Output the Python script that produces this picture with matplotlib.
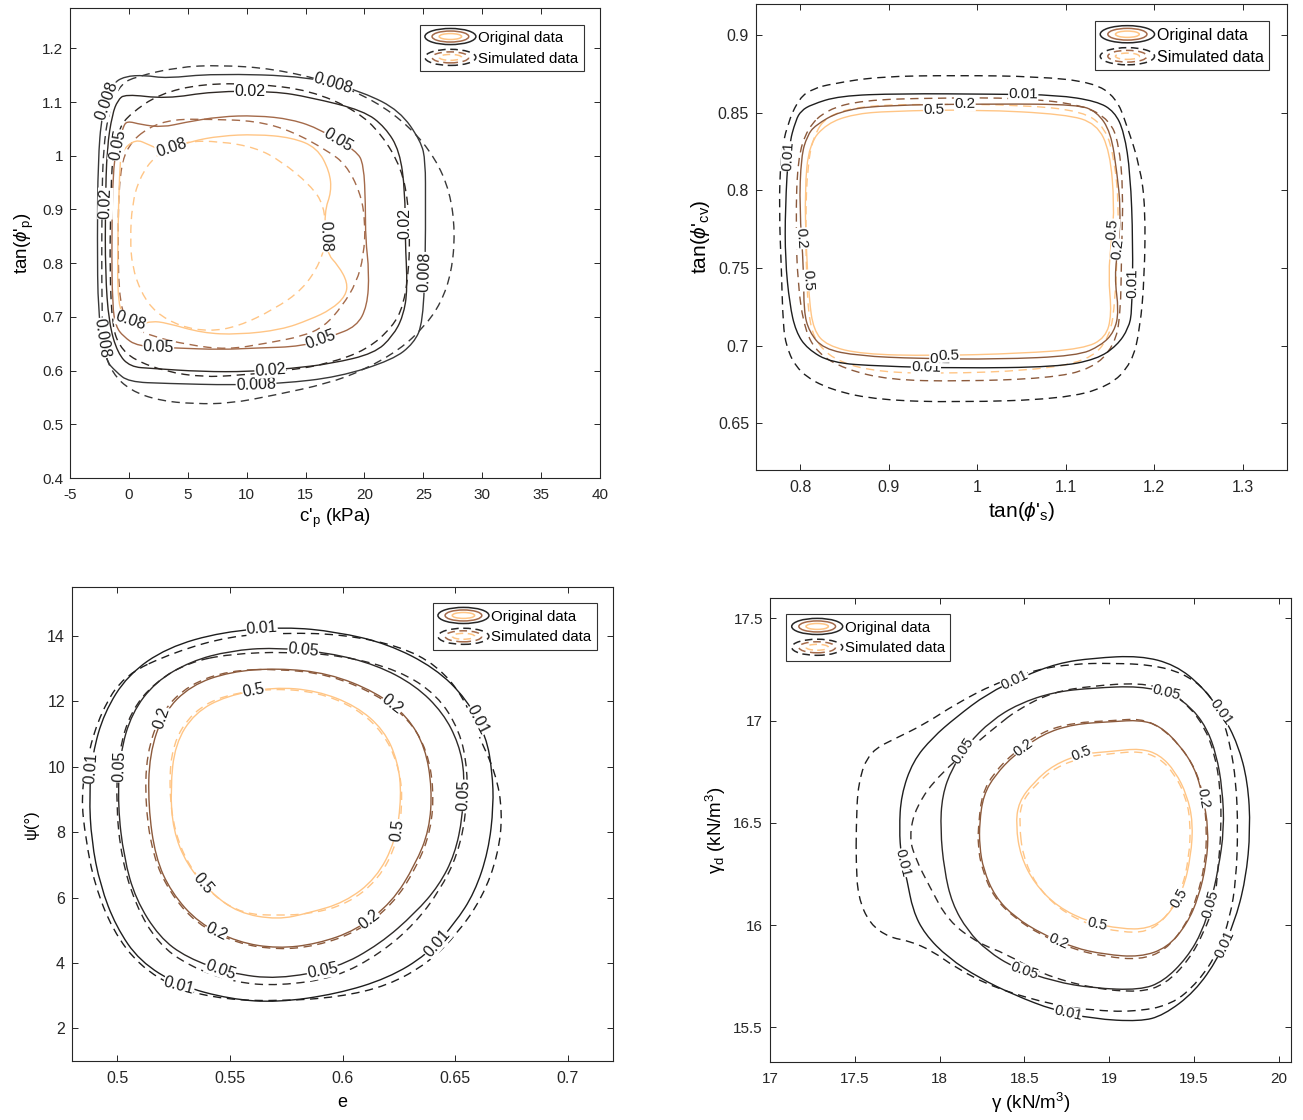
import numpy as np
import matplotlib
matplotlib.use("Agg")
import matplotlib.pyplot as plt
from matplotlib.patches import Ellipse, PathPatch
from matplotlib.path import Path
from matplotlib.lines import Line2D
from matplotlib.legend_handler import HandlerBase
from matplotlib.ticker import FuncFormatter

plt.rcParams['font.family'] = ['Liberation Sans', 'DejaVu Sans']
plt.rcParams['mathtext.fontset'] = 'custom'
plt.rcParams['mathtext.rm'] = 'Liberation Sans'
plt.rcParams['mathtext.it'] = 'Liberation Sans:italic'
plt.rcParams['mathtext.default'] = 'regular'

# ----------------------------------------------------------
# panel 1 : c'p vs tan(phi'p)   contour vertices
# ----------------------------------------------------------
P1_LEVELS = ['0.008', '0.02', '0.05', '0.08']

P1_ORIG_0008 = [(-0.03, 0.579), (3.17, 0.576), (8.96, 0.573), (12.93, 0.576), (17.8, 0.588),
                (22.4, 0.620), (24.2, 0.651), (24.97, 0.689), (25.18, 0.820), (25.18, 0.908),
                (25.18, 0.990), (24.8, 1.027), (22.99, 1.084), (19.94, 1.118), (15.37, 1.148),
                (7.13, 1.153), (3.17, 1.144), (1.34, 1.150), (-0.34, 1.148), (-1.4, 1.134),
                (-2.3, 1.078), (-2.62, 0.99), (-2.68, 0.846), (-2.62, 0.708), (-2.0, 0.620),
                (-1.1, 0.598)]
P1_SIM_0008 = [(0.58, 1.147), (4.09, 1.165), (7.74, 1.169), (12.3, 1.162), (17.2, 1.137),
               (20.85, 1.103), (23.9, 1.053), (26.0, 0.996), (27.26, 0.933), (27.7, 0.858),
               (27.4, 0.783), (26.5, 0.726), (25.1, 0.682), (22.99, 0.639), (19.94, 0.601),
               (16.9, 0.576), (12.3, 0.554), (8.66, 0.539), (5.6, 0.538), (2.56, 0.544),
               (0.12, 0.563), (-1.4, 0.595), (-2.16, 0.639), (-2.3, 0.72), (-2.3, 0.908),
               (-2.16, 1.021), (-1.55, 1.096), (-0.64, 1.134)]
P1_ORIG_002 = [(-0.34, 1.115), (3.17, 1.106), (7.13, 1.120), (12.3, 1.120), (15.37, 1.109),
               (19.94, 1.084), (21.77, 1.053), (22.99, 1.009), (23.45, 0.933), (23.45, 0.846),
               (23.66, 0.751), (23.29, 0.701), (22.4, 0.664), (20.85, 0.632), (17.2, 0.613),
               (13.84, 0.604), (10.18, 0.598), (6.22, 0.598), (1.95, 0.604), (0.12, 0.607),
               (-0.95, 0.632), (-1.7, 0.689), (-2.0, 0.783), (-2.0, 0.908), (-1.86, 1.015),
               (-1.4, 1.078), (-0.95, 1.103)]
P1_SIM_002 = [(0.12, 1.078), (2.56, 1.115), (6.22, 1.134), (10.79, 1.134), (15.37, 1.122),
              (19.33, 1.084), (21.46, 1.04), (23.14, 0.977), (23.75, 0.908), (23.84, 0.846),
              (23.75, 0.783), (23.29, 0.72), (22.4, 0.682), (20.24, 0.639), (16.9, 0.613),
              (13.84, 0.601), (9.27, 0.591), (6.22, 0.588), (3.17, 0.598), (0.43, 0.62),
              (-0.79, 0.645), (-1.4, 0.682), (-1.62, 0.783), (-1.55, 0.908), (-1.4, 1.002),
              (-0.79, 1.053)]
P1_ORIG_005 = [(-0.18, 1.065), (1.04, 1.058), (2.87, 1.053), (4.7, 1.062), (7.74, 1.073),
               (10.79, 1.075), (13.84, 1.068), (16.28, 1.049), (19.33, 1.009), (19.94, 0.984),
               (20.09, 0.908), (20.09, 0.846), (20.4, 0.783), (20.24, 0.72), (19.33, 0.682),
               (17.2, 0.664), (14.76, 0.645), (10.79, 0.642), (7.74, 0.639), (4.09, 0.642),
               (0.73, 0.645), (-0.49, 0.664), (-1.1, 0.682), (-1.4, 0.72), (-1.46, 0.846),
               (-1.34, 0.977), (-0.95, 1.021), (-0.49, 1.053)]
P1_SIM_005 = [(1.65, 1.053), (3.78, 1.068), (6.83, 1.068), (10.79, 1.065), (13.84, 1.046),
              (16.89, 1.009), (18.41, 0.984), (19.63, 0.933), (20.09, 0.877), (19.94, 0.814),
              (19.33, 0.764), (18.11, 0.72), (16.59, 0.682), (14.76, 0.664), (11.71, 0.651),
              (8.35, 0.639), (5.0, 0.648), (1.95, 0.664), (0.12, 0.682), (-0.79, 0.72),
              (-0.95, 0.846), (-0.79, 0.971), (-0.03, 1.021)]
P1_ORIG_008 = [(-0.64, 1.009), (0.58, 1.031), (1.65, 1.021), (2.87, 1.009), (5.3, 1.027),
               (7.74, 1.037), (10.79, 1.04), (13.84, 1.034), (15.98, 1.015), (17.04, 0.971),
               (17.2, 0.933), (16.59, 0.896), (16.74, 0.820), (17.8, 0.795), (18.57, 0.764),
               (18.41, 0.739), (17.2, 0.714), (15.37, 0.695), (12.93, 0.676), (9.27, 0.667),
               (6.22, 0.67), (3.17, 0.689), (1.95, 0.692), (1.04, 0.686), (-0.18, 0.695),
               (-0.95, 0.72), (-0.95, 0.846), (-0.79, 0.971)]
P1_SIM_008 = [(2.26, 1.002), (4.7, 1.027), (7.74, 1.027), (10.79, 1.015), (12.93, 0.99),
              (15.37, 0.946), (16.59, 0.908), (16.74, 0.846), (16.28, 0.802), (14.76, 0.751),
              (12.32, 0.714), (9.27, 0.682), (6.83, 0.673), (4.39, 0.682), (2.26, 0.708),
              (1.04, 0.745), (0.27, 0.795), (0.12, 0.846), (0.27, 0.908), (0.88, 0.958)]

P1_LABELS = [('0.008', 17.5, 1.145), ('0.008', -1.6, 1.1), ('0.008', 25.2, 0.783),
             ('0.008', 10.8, 0.574), ('0.008', -2.4, 0.66),
             ('0.02', 10.3, 1.12), ('0.02', 23.5, 0.874), ('0.02', 12.0, 0.6), ('0.02', -2.0, 0.911),
             ('0.05', 17.8, 1.03), ('0.05', -1.0, 1.02), ('0.05', 16.3, 0.657), ('0.05', 2.5, 0.645),
             ('0.08', 3.6, 1.015), ('0.08', 16.6, 0.85), ('0.08', 0.1, 0.69)]

# ----------------------------------------------------------
# panel 2 : tan(phi's) vs tan(phi'cv)
# ----------------------------------------------------------
P2_LEVELS = ['0.01', '0.2', '0.5']

P2_ORIG_001 = [(0.8125, 0.8552), (0.844, 0.8608), (0.911, 0.8623), (1.023, 0.8619), (1.09, 0.8614),
               (1.135, 0.8574), (1.155, 0.8508), (1.166, 0.8375), (1.173, 0.8109), (1.176, 0.7666),
               (1.175, 0.7222), (1.171, 0.7112), (1.158, 0.7001), (1.135, 0.6912), (1.09, 0.6863),
               (0.978, 0.6855), (0.889, 0.6868), (0.835, 0.689), (0.808, 0.6979), (0.795, 0.709),
               (0.788, 0.7267), (0.783, 0.7555), (0.783, 0.7887), (0.787, 0.8286), (0.795, 0.8453),
               (0.801, 0.8512)]
P2_SIM_001 = [(0.835, 0.8685), (0.889, 0.8733), (0.978, 0.874), (1.068, 0.8733), (1.131, 0.8696),
              (1.157, 0.8597), (1.169, 0.842), (1.184, 0.8153), (1.19, 0.7888), (1.189, 0.7444),
              (1.184, 0.7112), (1.175, 0.689), (1.149, 0.6735), (1.095, 0.6657), (0.978, 0.6635),
              (0.889, 0.665), (0.835, 0.6713), (0.799, 0.6824), (0.783, 0.70), (0.78, 0.7222),
              (0.779, 0.7444), (0.776, 0.7888), (0.778, 0.822), (0.785, 0.842), (0.799, 0.8597),
              (0.815, 0.8655)]
P2_ORIG_02 = [(0.817, 0.8419), (0.844, 0.8508), (0.889, 0.8548), (1.023, 0.8557), (1.113, 0.8552),
              (1.135, 0.8508), (1.151, 0.8375), (1.158, 0.8109), (1.162, 0.7887), (1.16, 0.7666),
              (1.155, 0.7444), (1.16, 0.7223), (1.155, 0.709), (1.14, 0.7001), (1.113, 0.6934),
              (1.023, 0.6912), (0.934, 0.6917), (0.866, 0.6934), (0.826, 0.6979), (0.81, 0.709),
              (0.804, 0.7222), (0.804, 0.7489), (0.799, 0.7887), (0.801, 0.822), (0.808, 0.8353)]
P2_SIM_02 = [(0.83, 0.852), (0.87, 0.858), (0.95, 0.8595), (1.05, 0.8595), (1.12, 0.855),
             (1.15, 0.845), (1.16, 0.83), (1.165, 0.80), (1.163, 0.76), (1.162, 0.72),
             (1.155, 0.70), (1.13, 0.685), (1.08, 0.679), (0.98, 0.677), (0.9, 0.678),
             (0.85, 0.685), (0.82, 0.695), (0.805, 0.71), (0.797, 0.74), (0.795, 0.78),
             (0.797, 0.82), (0.808, 0.84)]
P2_ORIG_05 = [(0.83, 0.843), (0.86, 0.849), (0.9, 0.851), (1.0, 0.852), (1.1, 0.849),
              (1.135, 0.843), (1.15, 0.825), (1.155, 0.79), (1.152, 0.77), (1.148, 0.745),
              (1.152, 0.72), (1.145, 0.705), (1.12, 0.698), (1.05, 0.695), (0.95, 0.6935),
              (0.87, 0.6945), (0.83, 0.70), (0.815, 0.71), (0.81, 0.73), (0.807, 0.76),
              (0.805, 0.80), (0.81, 0.83)]
P2_SIM_05 = [(0.83, 0.848), (0.87, 0.8545), (0.95, 0.8555), (1.05, 0.855), (1.12, 0.851),
             (1.145, 0.84), (1.155, 0.82), (1.16, 0.79), (1.158, 0.76), (1.156, 0.73),
             (1.15, 0.705), (1.125, 0.69), (1.06, 0.684), (0.96, 0.682), (0.89, 0.683),
             (0.845, 0.689), (0.82, 0.70), (0.81, 0.715), (0.807, 0.745), (0.806, 0.78),
             (0.808, 0.815), (0.815, 0.835)]

P2_LABELS = [('0.01', 1.052, 0.862), ('0.01', 0.785, 0.822), ('0.01', 1.176, 0.74),
             ('0.01', 0.942, 0.686),
             ('0.2', 0.986, 0.8555), ('0.2', 0.801, 0.769), ('0.2', 1.158, 0.762), ('0.2', 0.958, 0.6915),
             ('0.5', 0.951, 0.852), ('0.5', 0.808, 0.742), ('0.5', 1.15, 0.775), ('0.5', 0.968, 0.694)]

# ----------------------------------------------------------
# panel 3 : e vs psi
# ----------------------------------------------------------
P3_LEVELS = ['0.01', '0.05', '0.2', '0.5']

P3_ORIG_001 = [(0.5747, 14.28), (0.5974, 14.13), (0.6201, 13.76), (0.6411, 13.02), (0.6551, 12.07),
               (0.6638, 10.91), (0.6664, 9.85), (0.667, 8.80), (0.6647, 7.42), (0.6586, 6.15),
               (0.6498, 5.21), (0.6376, 4.26), (0.6201, 3.53), (0.5974, 3.05), (0.5712, 2.79),
               (0.5502, 2.89), (0.5274, 3.31), (0.51, 4.05), (0.4995, 5.11), (0.4925, 6.37),
               (0.4886, 7.74), (0.4876, 9.12), (0.489, 10.38), (0.4942, 11.65), (0.5047, 12.81),
               (0.5222, 13.65), (0.5467, 14.13)]
P3_SIM_001 = [(0.525, 13.5), (0.55, 14.0), (0.575, 14.1), (0.60, 14.05), (0.625, 13.7),
              (0.642, 13.1), (0.654, 12.1), (0.66, 11.0), (0.668, 9.8), (0.671, 8.6),
              (0.669, 7.3), (0.662, 6.0), (0.651, 4.9), (0.638, 4.0), (0.62, 3.3),
              (0.598, 2.95), (0.572, 2.83), (0.548, 2.88), (0.527, 3.2), (0.51, 3.9),
              (0.498, 5.0), (0.49, 6.4), (0.486, 7.8), (0.484, 9.1), (0.487, 10.4),
              (0.493, 11.7), (0.503, 12.8)]
P3_ORIG_005 = [(0.5694, 13.65), (0.5939, 13.49), (0.6149, 13.12), (0.6323, 12.49), (0.6446, 11.65),
               (0.6516, 10.70), (0.6542, 9.75), (0.6533, 8.48), (0.6498, 7.32), (0.6428, 6.37),
               (0.6323, 5.53), (0.6166, 4.58), (0.5974, 3.84), (0.5712, 3.50), (0.5502, 3.68),
               (0.5309, 4.16), (0.5187, 4.79), (0.5082, 5.95), (0.503, 7.22), (0.5003, 8.80),
               (0.5012, 10.38), (0.5065, 11.65), (0.517, 12.60), (0.5327, 13.23), (0.5502, 13.55)]
P3_SIM_005 = [(0.55, 13.45), (0.575, 13.52), (0.60, 13.40), (0.625, 12.95), (0.642, 12.2),
              (0.652, 11.1), (0.6555, 9.9), (0.655, 8.6), (0.651, 7.3), (0.643, 6.2),
              (0.632, 5.2), (0.617, 4.3), (0.597, 3.55), (0.572, 3.3), (0.552, 3.4),
              (0.532, 3.9), (0.518, 4.6), (0.508, 5.8), (0.502, 7.2), (0.4995, 8.8),
              (0.5005, 10.4), (0.506, 11.7), (0.517, 12.6), (0.532, 13.2)]
P3_ORIG_02 = [(0.5712, 13.02), (0.5939, 12.86), (0.6149, 12.28), (0.6288, 11.54), (0.6367, 10.59),
              (0.6397, 9.33), (0.6385, 8.07), (0.6323, 7.01), (0.6219, 5.85), (0.6061, 5.00),
              (0.5886, 4.58), (0.5712, 4.44), (0.5537, 4.63), (0.5362, 5.21), (0.524, 6.16),
              (0.517, 7.22), (0.5138, 8.80), (0.5143, 10.38), (0.5205, 11.65), (0.5327, 12.49),
              (0.5502, 12.91)]
P3_SIM_02 = [(0.5712, 13.0), (0.594, 12.82), (0.615, 12.22), (0.6295, 11.45), (0.6375, 10.5),
             (0.6405, 9.3), (0.6392, 8.05), (0.633, 6.95), (0.6225, 5.8), (0.6065, 4.95),
             (0.5885, 4.52), (0.5712, 4.40), (0.553, 4.6), (0.535, 5.2), (0.5232, 6.17),
             (0.516, 7.25), (0.5125, 8.8), (0.513, 10.4), (0.5195, 11.68), (0.532, 12.52),
             (0.5495, 12.94)]
P3_ORIG_05 = [(0.5694, 12.44), (0.5886, 12.33), (0.6061, 11.86), (0.6184, 11.12), (0.6245, 10.17),
              (0.6262, 9.12), (0.6236, 7.74), (0.6149, 6.58), (0.6009, 5.85), (0.5851, 5.53),
              (0.5712, 5.32), (0.5537, 5.53), (0.5414, 6.16), (0.5309, 7.01), (0.5248, 8.06),
              (0.5236, 9.33), (0.5257, 10.70), (0.5344, 11.65), (0.5484, 12.17)]
P3_SIM_05 = [(0.5694, 12.4), (0.589, 12.28), (0.606, 11.8), (0.618, 11.05), (0.6245, 10.1),
             (0.6268, 9.1), (0.6245, 7.7), (0.616, 6.55), (0.602, 5.8), (0.586, 5.5),
             (0.5712, 5.45), (0.556, 5.5), (0.5425, 6.05), (0.532, 6.95), (0.5255, 8.0),
             (0.523, 9.33), (0.5245, 10.7), (0.5335, 11.68), (0.5475, 12.2)]

P3_LABELS = [('0.01', 0.5642, 14.23), ('0.01', 0.6603, 11.44), ('0.01', 0.4885, 9.96),
             ('0.01', 0.642, 4.58), ('0.01', 0.5274, 3.3),
             ('0.05', 0.5825, 13.49), ('0.05', 0.5012, 10.0), ('0.05', 0.6547, 9.12),
             ('0.05', 0.5458, 3.79), ('0.05', 0.5913, 3.68),
             ('0.2', 0.5222, 11.44), ('0.2', 0.621, 11.81), ('0.2', 0.5441, 4.95), ('0.2', 0.6114, 5.37),
             ('0.5', 0.5607, 12.28), ('0.5', 0.6236, 8.06), ('0.5', 0.5388, 6.48)]

# ----------------------------------------------------------
# panel 4 : gamma vs gamma_d
# ----------------------------------------------------------
P4_LEVELS = ['0.01', '0.05', '0.2', '0.5']

P4_ORIG_001 = [(17.762, 16.469), (17.773, 16.635), (17.842, 16.801), (17.958, 16.917), (18.096, 17.016),
               (18.281, 17.132), (18.489, 17.215), (18.696, 17.281), (18.904, 17.306), (19.181, 17.318),
               (19.389, 17.273), (19.55, 17.165), (19.666, 17.033), (19.758, 16.884), (19.816, 16.701),
               (19.832, 16.469), (19.804, 16.221), (19.735, 16.005), (19.643, 15.84), (19.504, 15.674),
               (19.319, 15.558), (19.181, 15.528), (18.904, 15.541), (18.673, 15.583), (18.442, 15.657),
               (18.235, 15.74), (18.05, 15.84), (17.912, 15.956), (17.842, 16.072), (17.808, 16.221),
               (17.773, 16.337)]
P4_SIM_001 = [(17.508, 16.469), (17.519, 16.701), (17.588, 16.85), (17.75, 16.917), (17.912, 16.983),
              (18.096, 17.082), (18.327, 17.182), (18.558, 17.248), (18.789, 17.278), (19.019, 17.281),
              (19.25, 17.273), (19.435, 17.232), (19.573, 17.149), (19.666, 17.016), (19.712, 16.884),
              (19.747, 16.701), (19.758, 16.469), (19.747, 16.221), (19.712, 16.039), (19.643, 15.873),
              (19.527, 15.724), (19.366, 15.608), (19.135, 15.575), (18.904, 15.583), (18.673, 15.608),
              (18.327, 15.691), (18.096, 15.79), (17.958, 15.873), (17.819, 15.923), (17.704, 15.939),
              (17.588, 16.005), (17.519, 16.138), (17.508, 16.304)]
P4_ORIG_005 = [(18.004, 16.469), (18.015, 16.635), (18.073, 16.767), (18.165, 16.884), (18.304, 17.0),
               (18.465, 17.082), (18.673, 17.14), (18.904, 17.16), (19.181, 17.169), (19.366, 17.132),
               (19.481, 17.066), (19.573, 16.966), (19.631, 16.834), (19.666, 16.668), (19.677, 16.469),
               (19.642, 16.27), (19.596, 16.105), (19.55, 15.972), (19.458, 15.84), (19.319, 15.724),
               (19.181, 15.682), (18.904, 15.691), (18.673, 15.724), (18.442, 15.79), (18.281, 15.873),
               (18.165, 15.972), (18.073, 16.105), (18.027, 16.27)]
P4_SIM_005 = [(18.33, 16.97), (18.0, 16.74), (17.86, 16.58), (17.82, 16.43), (17.86, 16.32),
              (17.94, 16.19), (18.05, 16.02), (18.23, 15.91), (18.39, 15.86), (18.6, 15.76),
              (18.9, 15.69), (19.18, 15.67), (19.33, 15.71), (19.47, 15.83), (19.56, 15.97),
              (19.62, 16.1), (19.64, 16.27), (19.66, 16.47), (19.655, 16.67), (19.62, 16.84),
              (19.56, 16.97), (19.47, 17.07), (19.35, 17.15), (19.18, 17.185), (18.9, 17.17),
              (18.67, 17.14), (18.47, 17.06)]
P4_ORIG_02 = [(18.235, 16.502), (18.258, 16.635), (18.327, 16.734), (18.442, 16.834), (18.604, 16.933),
              (18.789, 16.983), (19.019, 16.995), (19.181, 17.003), (19.296, 16.975), (19.412, 16.884),
              (19.504, 16.768), (19.55, 16.635), (19.585, 16.469), (19.573, 16.304), (19.527, 16.138),
              (19.458, 16.005), (19.342, 15.889), (19.181, 15.843), (18.973, 15.856), (18.789, 15.889),
              (18.604, 15.956), (18.442, 16.039), (18.327, 16.138), (18.258, 16.271), (18.235, 16.387)]
P4_SIM_02 = [(18.23, 16.5), (18.25, 16.64), (18.32, 16.745), (18.44, 16.845), (18.6, 16.945),
             (18.79, 16.99), (19.02, 17.0), (19.18, 17.01), (19.30, 16.97), (19.42, 16.875),
             (19.51, 16.76), (19.555, 16.63), (19.575, 16.47), (19.565, 16.3), (19.515, 16.13),
             (19.45, 16.0), (19.33, 15.875), (19.18, 15.83), (18.98, 15.845), (18.79, 15.88),
             (18.6, 15.95), (18.44, 16.035), (18.32, 16.135), (18.25, 16.27), (18.225, 16.39)]
P4_ORIG_05 = [(18.449, 16.486), (18.465, 16.602), (18.558, 16.701), (18.673, 16.784), (18.835, 16.837),
              (19.019, 16.85), (19.181, 16.864), (19.296, 16.834), (19.389, 16.751), (19.458, 16.635),
              (19.493, 16.502), (19.481, 16.337), (19.435, 16.171), (19.342, 16.039), (19.227, 15.981),
              (19.066, 15.981), (18.881, 16.014), (18.696, 16.088), (18.558, 16.204), (18.477, 16.337)]
P4_SIM_05 = [(18.47, 16.49), (18.48, 16.6), (18.57, 16.69), (18.68, 16.77), (18.84, 16.82),
             (19.02, 16.84), (19.18, 16.85), (19.29, 16.82), (19.38, 16.745), (19.45, 16.63),
             (19.48, 16.5), (19.47, 16.33), (19.425, 16.165), (19.33, 16.03), (19.22, 15.965),
             (19.07, 15.965), (18.88, 16.0), (18.7, 16.08), (18.565, 16.2), (18.49, 16.34)]

P4_LABELS = [('0.01', 18.442, 17.2), ('0.01', 19.643, 17.03), ('0.01', 17.785, 16.304),
             ('0.01', 19.70, 15.898), ('0.01', 18.754, 15.56),
             ('0.05', 18.142, 16.85), ('0.05', 19.33, 17.12), ('0.05', 19.654, 16.088), ('0.05', 18.5, 15.78),
             ('0.2', 18.5, 16.86), ('0.2', 19.55, 16.62), ('0.2', 18.696, 15.92),
             ('0.5', 18.835, 16.837), ('0.5', 19.4, 16.138), ('0.5', 18.927, 16.01)]

# colours per level (copper-like, dark -> light)
P1_COLORS = ['#383838', '#2e2824', '#a46a4a', '#ffc585']
P2_COLORS = ['#1e1e1e', '#8c5a3c', '#ffc585']
P34_COLORS = ['#1e1e1e', '#2e2a28', '#8c5a3c', '#ffc585']
ICON_COLORS = ['#262626', '#a46a4a', '#ffc585']


class ContourIcon(HandlerBase):
    def __init__(self, ls):
        super().__init__()
        self.ls = ls

    def create_artists(self, legend, orig_handle, xdescent, ydescent, width, height, fontsize, trans):
        cx = width / 2 - xdescent
        cy = height / 2 - ydescent
        arts = []
        for k, c in enumerate(ICON_COLORS):
            e = Ellipse((cx, cy), width * (1 - 0.28 * k), height * (1.2 - 0.38 * k), fill=False,
                        edgecolor=c, lw=1.1, linestyle=self.ls, transform=trans)
            arts.append(e)
        return arts


def smooth_path(pts):
    # closed quadratic-bezier path using the read vertices as control points
    p = np.array(pts)
    mid = (p + np.roll(p, -1, axis=0)) / 2
    verts = [mid[-1]]
    codes = [Path.MOVETO]
    for i in range(len(p)):
        verts += [p[i], mid[i]]
        codes += [Path.CURVE3, Path.CURVE3]
    return Path(verts, codes)


def put_label(ax, pts, txt, lx, ly, size):
    # snap the label onto the solid curve and follow its local direction
    a = np.array(pts + [pts[0]])
    d = ax.transData.transform(a)
    p = ax.transData.transform((lx, ly))
    best = None
    for i in range(len(d) - 1):
        s = d[i + 1] - d[i]
        t = np.clip(np.dot(p - d[i], s) / max(np.dot(s, s), 1e-9), 0, 1)
        q = d[i] + t * s
        dist = np.hypot(*(p - q))
        if best is None or dist < best[0]:
            best = (dist, q, s)
    _, q, s = best
    ang = np.degrees(np.arctan2(s[1], s[0]))
    if ang > 90:
        ang -= 180
    elif ang <= -90:
        ang += 180
    x, y = ax.transData.inverted().transform(q)
    ax.text(x, y, txt, fontsize=size, rotation=ang, rotation_mode='anchor',
            ha='center', va='center', color='#1a1a1a', zorder=5,
            bbox=dict(facecolor='white', edgecolor='none', pad=0.2))


def draw_panel(ax, levels, orig, sim, colors, labels, lsize):
    for lev, o, s, c in zip(levels, orig, sim, colors):
        ax.add_patch(PathPatch(smooth_path(s), fill=False, edgecolor=c, lw=1.0,
                               linestyle=(0, (6, 4)), zorder=2))
        ax.add_patch(PathPatch(smooth_path(o), fill=False, edgecolor=c, lw=1.0, zorder=3))
    for txt, lx, ly in labels:
        put_label(ax, orig[levels.index(txt)], txt, lx, ly, lsize)


def style_axes(ax, tsize):
    for sp in ax.spines.values():
        sp.set_color('#262626')
        sp.set_linewidth(0.8)
    ax.tick_params(direction='in', top=True, right=True, length=4.5, width=0.7,
                   labelsize=tsize, colors='#262626')
    ax.tick_params(axis='x', pad=7)
    ax.tick_params(axis='y', pad=5)
    fmt = FuncFormatter(lambda v, p: '%g' % round(v, 4))
    ax.xaxis.set_major_formatter(fmt)
    ax.yaxis.set_major_formatter(fmt)


def add_legend(ax, loc, size):
    h1 = Line2D([], [])
    h2 = Line2D([], [])
    leg = ax.legend([h1, h2], ['Original data', 'Simulated data'], loc=loc,
                    handler_map={h1: ContourIcon('-'), h2: ContourIcon((0, (5, 3)))},
                    fontsize=size, handlelength=3.4, handleheight=1.0, handletextpad=0.15,
                    labelspacing=0.4, borderpad=0.35, borderaxespad=1.1,
                    fancybox=False, framealpha=1, edgecolor='#333333')
    leg.get_frame().set_linewidth(0.8)


fig = plt.figure(figsize=(13.03, 11.2), dpi=100)

# ---- panel 1
ax1 = fig.add_axes([0.0537, 0.5732, 0.4068, 0.4196])
ax1.set_xlim(-5, 40)
ax1.set_ylim(0.4, 1.275)
ax1.set_xticks(np.arange(-5, 41, 5))
ax1.set_yticks(np.arange(0.4, 1.21, 0.1))
style_axes(ax1, 11)
draw_panel(ax1, P1_LEVELS, [P1_ORIG_0008, P1_ORIG_002, P1_ORIG_005, P1_ORIG_008],
           [P1_SIM_0008, P1_SIM_002, P1_SIM_005, P1_SIM_008], P1_COLORS, P1_LABELS, 11.5)
ax1.set_xlabel("c'$_{p}$ (kPa)", fontsize=13.5, labelpad=4)
ax1.set_ylabel("tan($\\mathit{\\phi}$'$_{p}$)", fontsize=13.5, labelpad=4)
add_legend(ax1, 'upper right', 10.8)

# ---- panel 2
ax2 = fig.add_axes([0.5802, 0.5804, 0.4075, 0.4161])
ax2.set_xlim(0.75, 1.35)
ax2.set_ylim(0.62, 0.92)
ax2.set_xticks(np.arange(0.8, 1.31, 0.1))
ax2.set_yticks(np.arange(0.65, 0.91, 0.05))
style_axes(ax2, 11.5)
draw_panel(ax2, P2_LEVELS, [P2_ORIG_001, P2_ORIG_02, P2_ORIG_05],
           [P2_SIM_001, P2_SIM_02, P2_SIM_05], P2_COLORS, P2_LABELS, 11)
ax2.set_xlabel("tan($\\mathit{\\phi}$'$_{s}$)", fontsize=15, labelpad=4)
ax2.set_ylabel("tan($\\mathit{\\phi}$'$_{cv}$)", fontsize=15, labelpad=4)
add_legend(ax2, 'upper right', 11.5)

# ---- panel 3
ax3 = fig.add_axes([0.0553, 0.0527, 0.4152, 0.4232])
ax3.set_xlim(0.48, 0.72)
ax3.set_ylim(1, 15.5)
ax3.set_xticks(np.arange(0.5, 0.701, 0.05))
ax3.set_yticks(np.arange(2, 15, 2))
style_axes(ax3, 11.5)
draw_panel(ax3, P3_LEVELS, [P3_ORIG_001, P3_ORIG_005, P3_ORIG_02, P3_ORIG_05],
           [P3_SIM_001, P3_SIM_005, P3_SIM_02, P3_SIM_05], P34_COLORS, P3_LABELS, 11.5)
ax3.set_xlabel("e", fontsize=13, labelpad=6)
ax3.set_ylabel("ψ(°)", fontsize=12, labelpad=6)
add_legend(ax3, 'upper right', 10.8)

# ---- panel 4
ax4 = fig.add_axes([0.5909, 0.0518, 0.3998, 0.4143])
ax4.set_xlim(17, 20.07)
ax4.set_ylim(15.33, 17.6)
ax4.set_xticks(np.arange(17, 20.01, 0.5))
ax4.set_yticks(np.arange(15.5, 17.51, 0.5))
style_axes(ax4, 11)
draw_panel(ax4, P4_LEVELS, [P4_ORIG_001, P4_ORIG_005, P4_ORIG_02, P4_ORIG_05],
           [P4_SIM_001, P4_SIM_005, P4_SIM_02, P4_SIM_05], P34_COLORS, P4_LABELS, 10.5)
ax4.set_xlabel("γ (kN/m$^{3}$)", fontsize=13.5, labelpad=4)
ax4.set_ylabel("γ$_{d}$ (kN/m$^{3}$)", fontsize=13.5, labelpad=4)
add_legend(ax4, 'upper left', 10.8)

fig.savefig("out.png", dpi=100)
